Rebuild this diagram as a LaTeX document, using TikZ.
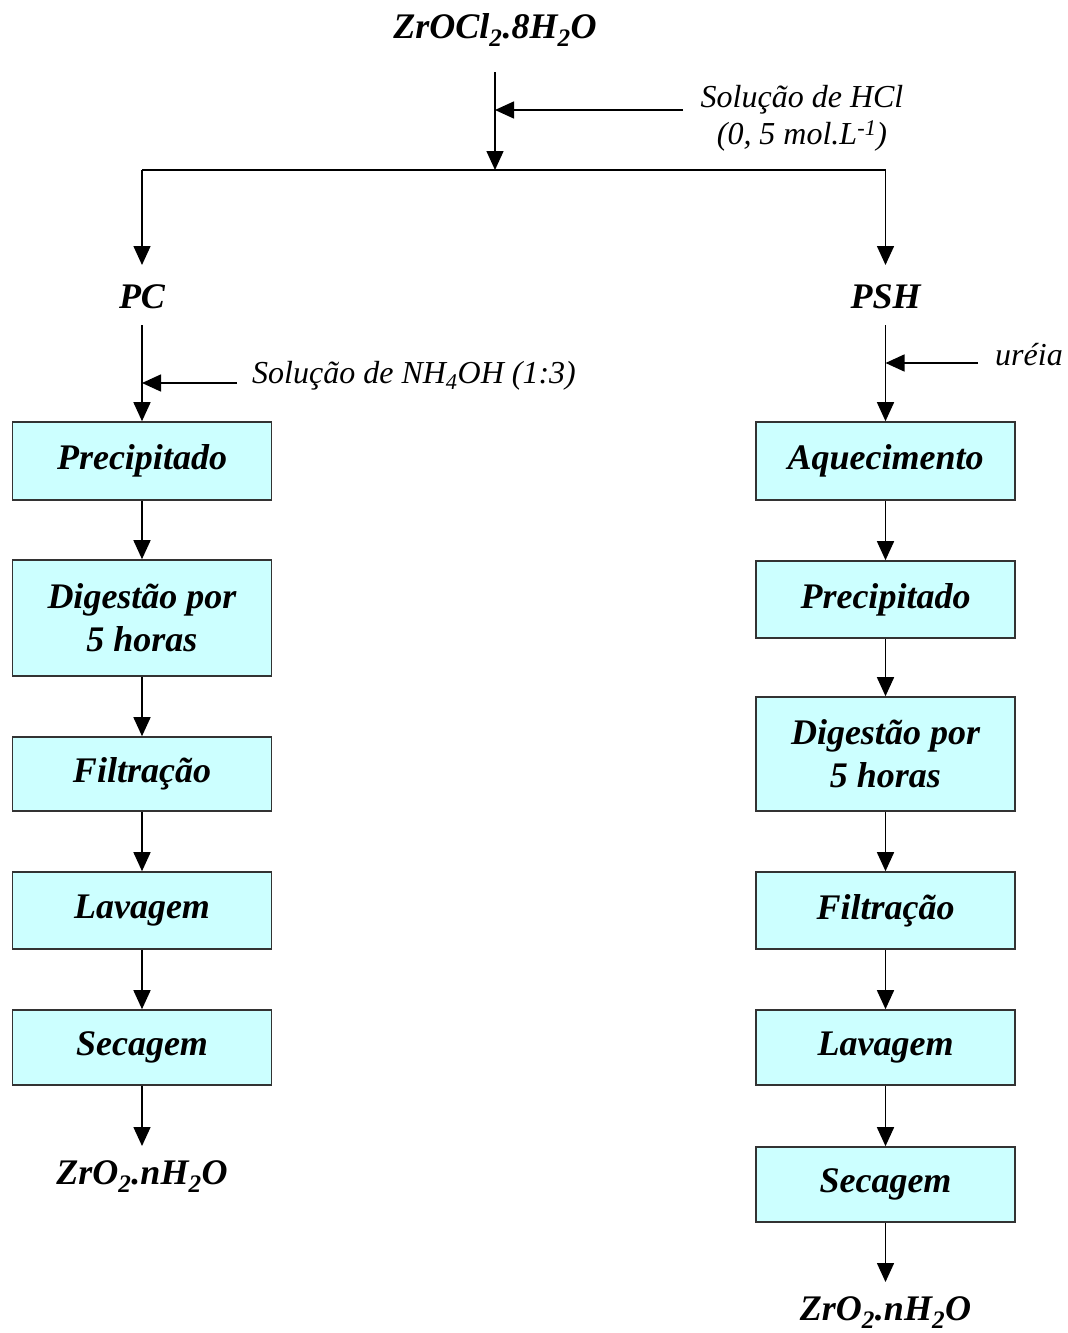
\documentclass[tikz,border=0pt]{standalone}
\usepackage{fontspec}
\setmainfont{Liberation Serif}
\usetikzlibrary{arrows.meta}
\definecolor{boxfill}{HTML}{CCFFFF}
\definecolor{boxline}{HTML}{333333}
\tikzset{
  arr/.style={line width=1.5pt, -{Triangle[length=19pt,width=17pt]}},
  ln/.style={line width=1.5pt},
  stepbox/.style={draw=boxline, line width=1.6pt, fill=boxfill, minimum width=259pt, inner sep=0pt, align=center, font=\fontsize{36}{43}\selectfont\bfseries\itshape},
  main/.style={inner sep=0pt, font=\fontsize{36}{42}\selectfont\bfseries\itshape},
  lab/.style={inner sep=0pt, align=center, font=\fontsize{32}{37}\selectfont\itshape},
}
\begin{document}
\begin{tikzpicture}[x=1pt,y=-1pt]
\useasboundingbox (0,0) rectangle (1068,1333);
% top
\node[main] (top) at (495,30) {ZrOCl\textsubscript{2}.8H\textsubscript{2}O};
\coordinate (t1) at (495,72);
\coordinate (j) at (495,170);
\coordinate (jl) at (142,170);
\coordinate (jr) at (885.5,170);
\coordinate (hclin) at (495,110);
\coordinate (hclout) at (683,110);
\node[lab] (hcl) at (802,118) {Solução de HCl\\(0, 5 mol.L\textsuperscript{-1})};
\draw[arr] (t1) -- (j);
\draw[arr] (hclout) -- (hclin);
\draw[ln] (jl) -- (jr);
% left branch
\node[main] (pc) at (142,297) {PC};
\coordinate (pcarr) at (142,265);
\draw[arr] (jl) -- (pcarr);
\node[stepbox, minimum height=78pt] (l1) at (142,461) {Precipitado};
\coordinate (pcb) at (142,325);
\draw[arr] (pcb) -- (l1.north);
\coordinate (nhin) at (142,383);
\coordinate (nhout) at (237,383);
\draw[arr] (nhout) -- (nhin);
\node[lab, anchor=west] (nh) at (252,376) {Solução de NH\textsubscript{4}OH (1:3)};
\node[stepbox, minimum height=116pt] (l2) at (142,618) {Digestão por\\5 horas};
\node[stepbox, minimum height=74pt] (l3) at (142,774) {Filtração};
\node[stepbox, minimum height=77pt] (l4) at (142,910.5) {Lavagem};
\node[stepbox, minimum height=75pt] (l5) at (142,1047.5) {Secagem};
\node[main] (lout) at (142,1177) {ZrO\textsubscript{2}.nH\textsubscript{2}O};
\coordinate (loutarr) at (142,1146);
\draw[arr] (l1) -- (l2);
\draw[arr] (l2) -- (l3);
\draw[arr] (l3) -- (l4);
\draw[arr] (l4) -- (l5);
\draw[arr] (l5.south) -- (loutarr);
% right branch
\node[main] (psh) at (885.5,297) {PSH};
\coordinate (psharr) at (885.5,265);
\draw[arr] (jr) -- (psharr);
\node[stepbox, minimum height=78pt] (r1) at (885.5,461) {Aquecimento};
\coordinate (pshb) at (885.5,325);
\draw[arr] (pshb) -- (r1.north);
\coordinate (urin) at (885.5,363);
\coordinate (urout) at (978,363);
\draw[arr] (urout) -- (urin);
\node[lab, anchor=west] (ur) at (995,355) {uréia};
\node[stepbox, minimum height=77pt] (r2) at (885.5,599.5) {Precipitado};
\node[stepbox, minimum height=114pt] (r3) at (885.5,754) {Digestão por\\5 horas};
\node[stepbox, minimum height=77pt] (r4) at (885.5,910.5) {Filtração};
\node[stepbox, minimum height=75pt] (r5) at (885.5,1047.5) {Lavagem};
\node[stepbox, minimum height=75pt] (r6) at (885.5,1184.5) {Secagem};
\node[main] (rout) at (885.5,1313) {ZrO\textsubscript{2}.nH\textsubscript{2}O};
\coordinate (routarr) at (885.5,1282);
\draw[arr] (r1) -- (r2);
\draw[arr] (r2) -- (r3);
\draw[arr] (r3) -- (r4);
\draw[arr] (r4) -- (r5);
\draw[arr] (r5) -- (r6);
\draw[arr] (r6.south) -- (routarr);
\end{tikzpicture}
\end{document}
